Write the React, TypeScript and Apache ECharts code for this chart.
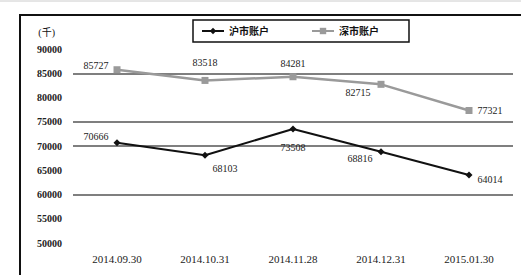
import React, { useEffect, useRef } from "react";
import * as echarts from "echarts";

const categories = ["2014.09.30", "2014.10.31", "2014.11.28", "2014.12.31", "2015.01.30"];
const seriesNames = ["沪市账户", "深市账户"];
const blackValues = [70666, 68103, 73508, 68816, 64014];
const grayValues = [85727, 83518, 84281, 82715, 77321];
const gridValues = [85000, 75000, 70000, 60000];
const yMin = 50000;
const yMax = 90000;
const yStep = 5000;

type LP = { position: string; offset: number[] };
const blackLabelPos: LP[] = [
  { position: "left", offset: [0, -6] },
  { position: "bottom", offset: [20, 0] },
  { position: "bottom", offset: [0, 5] },
  { position: "left", offset: [0, 7] },
  { position: "right", offset: [0, 4] },
];
const grayLabelPos: LP[] = [
  { position: "left", offset: [0, -4] },
  { position: "top", offset: [0, -4] },
  { position: "top", offset: [0, 0] },
  { position: "left", offset: [-2, 8] },
  { position: "right", offset: [0, 0] },
];

const FONT = "'Liberation Serif', 'DejaVu Serif', 'Noto Sans CJK SC', serif";

export default function App() {
  const ref = useRef<HTMLDivElement>(null);
  useEffect(() => {
    if (!ref.current) return;
    const chart = echarts.init(ref.current, null, { renderer: "svg" });
    const mk = (vals: number[], pos: LP[]) =>
      vals.map((v, i) => ({ value: v, label: { position: pos[i].position, offset: pos[i].offset } }));
    chart.setOption({
      animation: false,
      backgroundColor: "#fff",
      textStyle: { fontFamily: FONT },
      graphic: [
        { type: "line", shape: { x1: 0, y1: 1, x2: 521, y2: 1 }, style: { stroke: "#ccc", lineWidth: 1 } },
        { type: "rect", shape: { x: 20, y: 15, width: 520, height: 280 }, style: { fill: "none", stroke: "#111", lineWidth: 2 } },
      ],
      legend: {
        left: 193,
        top: 20,
        width: 210,
        height: 23,
        borderColor: "#111",
        borderWidth: 1.5,
        padding: [6, 30, 6, 8],
        itemGap: 42,
        itemWidth: 22,
        itemHeight: 8,
        textStyle: { fontSize: 10, color: "#111", fontWeight: "bold", fontFamily: FONT },
        data: seriesNames,
      },
      grid: { left: 73, right: 8, top: 49, bottom: 32 },
      xAxis: {
        type: "category",
        data: categories,
        boundaryGap: true,
        axisLine: { show: false },
        axisTick: { show: false },
        axisLabel: { fontSize: 11, color: "#222", margin: 10, fontFamily: FONT },
      },
      yAxis: {
        type: "value",
        min: yMin,
        max: yMax,
        interval: yStep,
        name: "(千)",
        nameLocation: "end",
        nameGap: 12,
        nameTextStyle: { align: "right", padding: [0, 18, 0, 0], fontSize: 10, color: "#111", fontFamily: FONT },
        axisLine: { show: false },
        axisTick: { show: false },
        splitLine: { show: false },
        axisLabel: {
          fontSize: 10,
          color: "#222",
          margin: 11,
          fontWeight: "bold",
          fontFamily: FONT,
          formatter: (v: number) => String(v),
        },
      },
      series: [
        {
          name: seriesNames[0],
          type: "line",
          data: mk(blackValues, blackLabelPos),
          symbol: "diamond",
          symbolSize: 7,
          lineStyle: { color: "#111", width: 2 },
          itemStyle: { color: "#111" },
          label: { show: true, fontSize: 10, color: "#222", fontFamily: FONT },
          z: 3,
        },
        {
          name: seriesNames[1],
          type: "line",
          data: mk(grayValues, grayLabelPos),
          symbol: "rect",
          symbolSize: 7,
          lineStyle: { color: "#9a9a9a", width: 2.5 },
          itemStyle: { color: "#9a9a9a" },
          label: { show: true, fontSize: 10, color: "#222", fontFamily: FONT },
          z: 3,
          markLine: {
            silent: true,
            symbol: "none",
            label: { show: false },
            lineStyle: { color: "#555", width: 1.5, type: "solid" },
            data: gridValues.map((v) => ({ yAxis: v })),
            z: 1,
          },
        },
      ],
    });
    return () => chart.dispose();
  }, []);
  return <div ref={ref} style={{ position: "fixed", left: 0, top: 0, width: 521, height: 275 }} />;
}
